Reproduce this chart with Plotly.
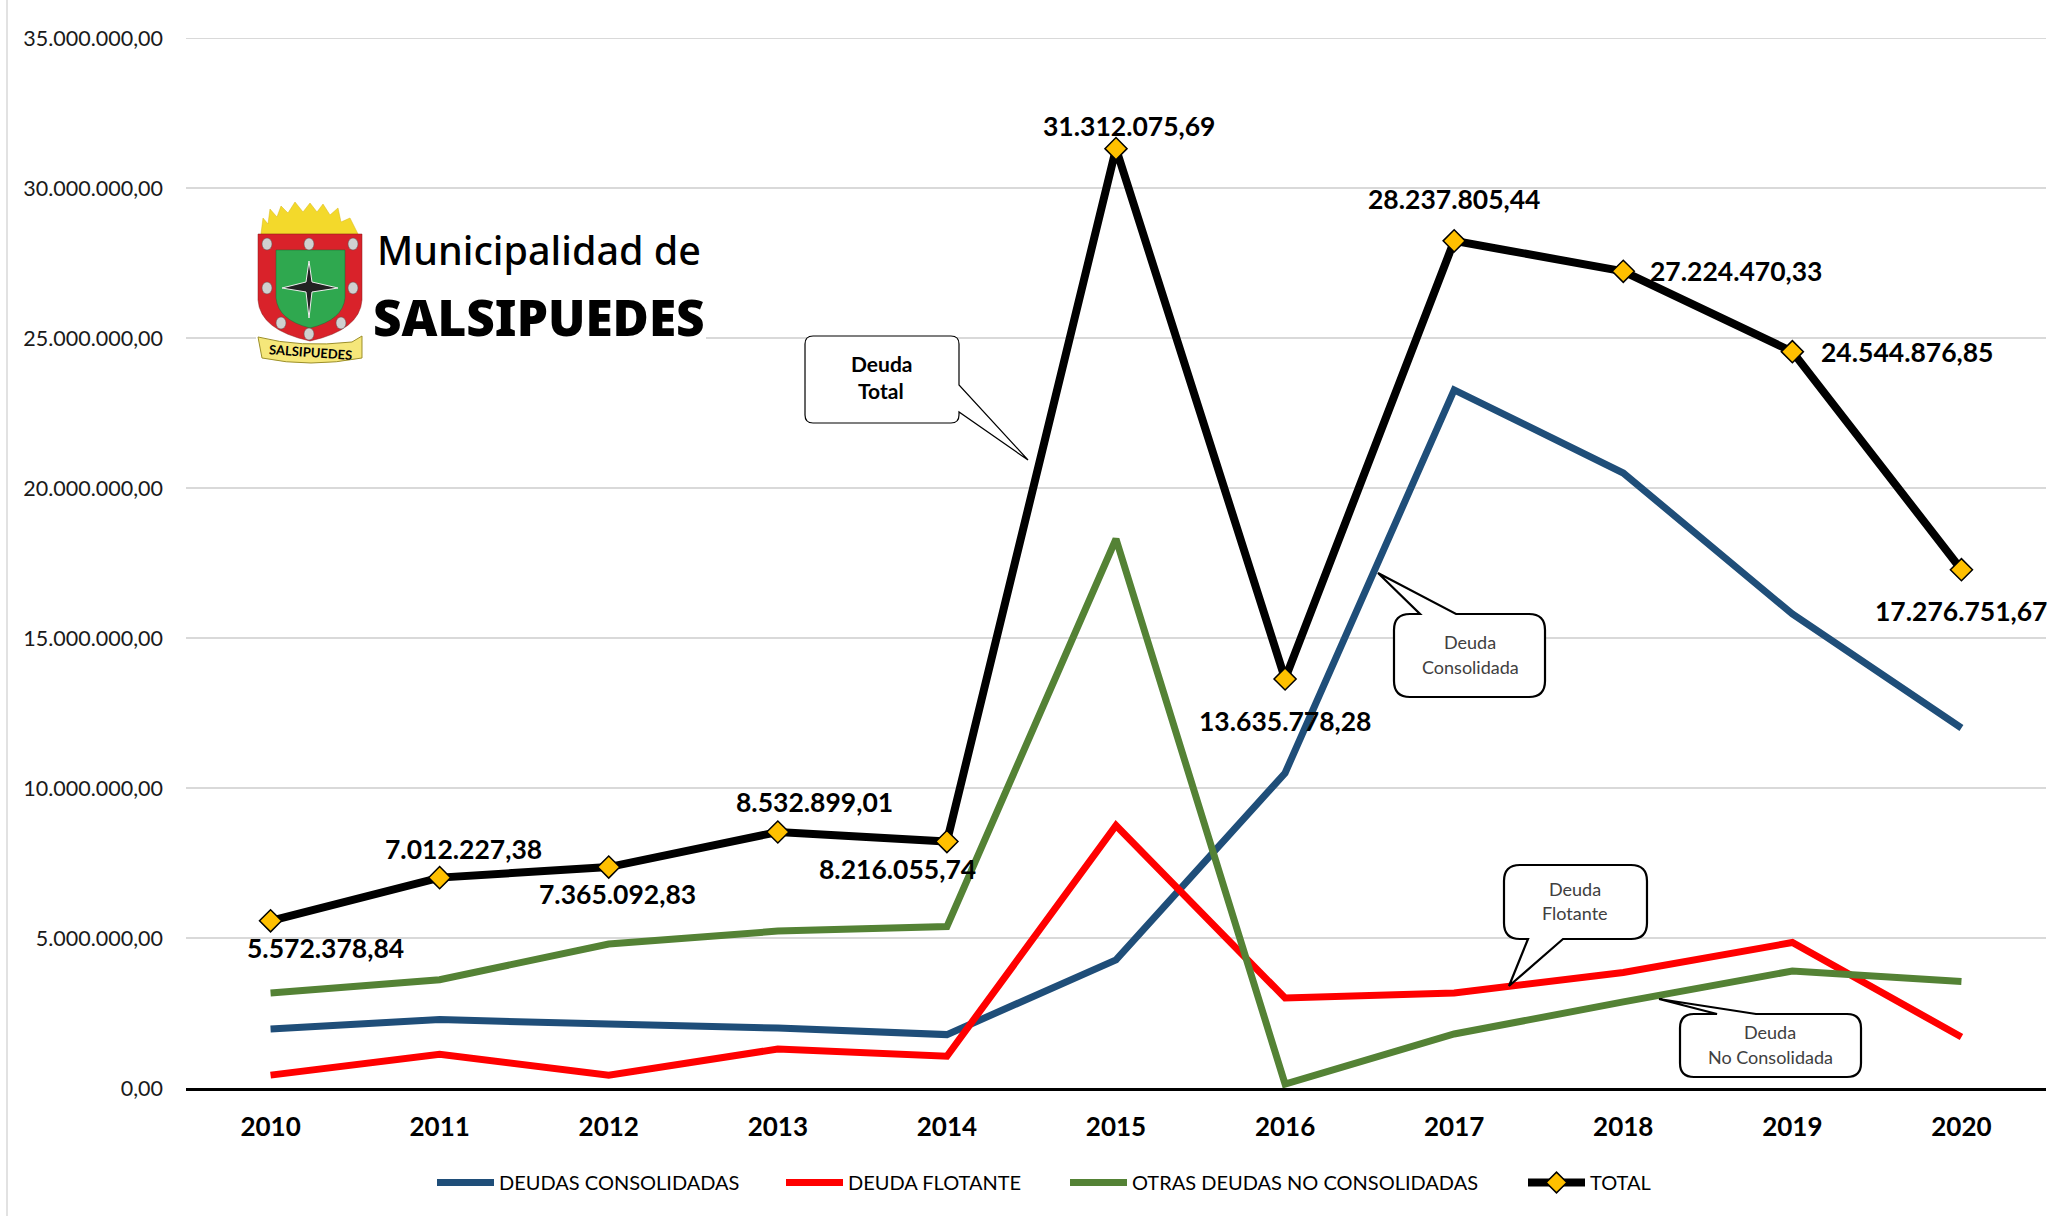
import plotly.graph_objects as go

years = ["2010","2011","2012","2013","2014","2015","2016","2017","2018","2019","2020"]
consolidadas = [1970000,2280000,2130000,2000000,1780000,4270000,10500000,23270000,20500000,15800000,12000000]
flotante = [430000,1120000,430000,1300000,1060000,8750000,3000000,3170000,3850000,4850000,1700000]
otras = [3170000,3610000,4800000,5230000,5380000,18300000,130000,1800000,2870000,3900000,3550000]
total = [5572378.84,7012227.38,7365092.83,8532899.01,8216055.74,31312075.69,13635778.28,28237805.44,27224470.33,24544876.85,17276751.67]
total_labels = ["5.572.378,84","7.012.227,38","7.365.092,83","8.532.899,01","8.216.055,74","31.312.075,69","13.635.778,28","28.237.805,44","27.224.470,33","24.544.876,85","17.276.751,67"]
label_dx = [55,24,9,37,-49,13,0,0,113,115,0]
label_dy = [27,-29,27,-30,27,-23,42,-42,0,0,41]

W,H=2064,1216
L,R,T,B=186,2046,38,1088
def px(x): return (x-L)/(R-L)
def py(y): return (B-y)/(B-T)
def P(x,y): return f"{px(x):.5f},{py(y):.5f}"
def poly(pts): return "M"+" L".join(P(*p) for p in pts)+" Z"

fig=go.Figure()
FONT="Lato"
for name,vals,color,lw in [("DEUDAS CONSOLIDADAS",consolidadas,"#1F4E79",277),("DEUDA FLOTANTE",flotante,"#FF0000",212),("OTRAS DEUDAS NO CONSOLIDADAS",otras,"#548235",386)]:
    fig.add_trace(go.Scatter(x=years,y=vals,name=name,mode="lines",line=dict(color=color,width=7),legendwidth=lw))
fig.add_trace(go.Scatter(x=years,y=total,name="TOTAL",mode="lines+markers",line=dict(color="#000000",width=8),
    marker=dict(symbol="diamond",size=17,color="#FFC000",line=dict(color="#000000",width=1.5))))

shapes=[]; ann=[]
def S(path,fill=None,line="#000000",w=1.5,**k):
    shapes.append(dict(type="path",path=path,xref="paper",yref="paper",fillcolor=fill or "rgba(0,0,0,0)",
        line=dict(color=line,width=w),layer="above",**k))
def T_(x,y,text,size,color="#000000",bold=False,family=FONT,angle=0):
    ann.append(dict(x=px(x),y=py(y),xref="paper",yref="paper",text=text,showarrow=False,xanchor="center",yanchor="middle",textangle=angle,
        font=dict(size=size,color=color,family=family,weight=700 if bold==True else (bold or 400))))

# left page edge
shapes.append(dict(type="line",xref="paper",yref="paper",x0=px(7),x1=px(7),y0=py(0),y1=py(1216),line=dict(color="#D9D9D9",width=1.5),layer="above"))
# top gridline (plotly drops the gridline that sits on the axis end)
shapes.append(dict(type="line",xref="paper",yref="y",x0=0,x1=1,y0=35000000,y1=35000000,line=dict(color="#D9D9D9",width=2),layer="below"))

# logo
shapes.append(dict(type="rect",xref="paper",yref="paper",x0=px(256),x1=px(706),y0=py(200),y1=py(365),fillcolor="#FFFFFF",line=dict(width=0),layer="above"))
sun=[(261,234),(263,218),(268,224),(270,209),(277,217),(281,206),(288,213),(295,202),(303,212),(310,203),(317,212),(323,204),(330,215),(338,208),(341,222),(350,218),(358,234)]
S(poly(sun),fill="#F3D92B",line="#D9B714",w=0.5)
S(f"M{P(258,234)} L{P(362,234)} L{P(362,300)} Q{P(360,330)} {P(310,341)} Q{P(260,330)} {P(258,300)} Z",fill="#D9222A",line="#8A1A1A",w=0.5)
S(f"M{P(276,250)} L{P(345,250)} L{P(345,298)} Q{P(343,320)} {P(310,328)} Q{P(278,320)} {P(276,298)} Z",fill="#2FA84F",line="#1E6B33",w=0.5)
for cx,cy in [(267,244),(309,244),(353,244),(267,288),(353,288),(281,323),(341,323),(309,334)]:
    shapes.append(dict(type="circle",xref="paper",yref="paper",x0=px(cx-5),x1=px(cx+5),y0=py(cy-6),y1=py(cy+6),fillcolor="#D0D0D0",line=dict(color="#555555",width=0.5),layer="above"))
S(poly([(309,261),(312,282),(338,288),(312,292),(309,318),(306,292),(282,288),(306,282)]),fill="#222222",line="#EEEEEE",w=1)
S(f"M{P(258,337)} Q{P(300,348)} {P(352,342)} L{P(362,336)} L{P(362,358)} Q{P(310,368)} {P(262,358)} Z",fill="#F5E77A",line="#9C8F2A",w=1)
T_(310,352,"SALSIPUEDES",13,bold=True,angle=4)
T_(539,250,"Municipalidad de",39.5,family="Noto Sans",bold=500)
T_(539,317,"SALSIPUEDES",49.5,bold=900,family="Noto Sans")

# callouts
def callout(x0,y0,x1,y1,r,pts,w=1.5):
    side=pts["side"]; a,tip,b=pts["v"]
    d=f"M{P(x0+r,y0)} "
    if side=="top": d+=f"L{P(*a)} L{P(*tip)} L{P(*b)} "
    d+=f"L{P(x1-r,y0)} Q{P(x1,y0)} {P(x1,y0+r)} "
    if side=="right": d+=f"L{P(*a)} L{P(*tip)} L{P(*b)} "
    d+=f"L{P(x1,y1-r)} Q{P(x1,y1)} {P(x1-r,y1)} "
    if side=="bottom": d+=f"L{P(*a)} L{P(*tip)} L{P(*b)} "
    d+=f"L{P(x0+r,y1)} Q{P(x0,y1)} {P(x0,y1-r)} L{P(x0,y0+r)} Q{P(x0,y0)} {P(x0+r,y0)} Z"
    S(d,fill="#FFFFFF",w=w)
callout(805,336,959,423,8,dict(side="right",v=[(959,385),(1028,460),(959,412)]),1.2)
T_(881,363,"Deuda",21,bold=True); T_(881,391,"Total",21,bold=True)
callout(1394,614,1545,697,16,dict(side="top",v=[(1420,614),(1378,573),(1456,614)]),2.2)
T_(1470,642,"Deuda",18,"#404040"); T_(1470,667,"Consolidada",18,"#404040")
callout(1504,865,1647,939,16,dict(side="bottom",v=[(1563,939),(1509,986),(1528,939)]),2.2)
T_(1575,889,"Deuda",18,"#404040"); T_(1575,913,"Flotante",18,"#404040")
callout(1680,1014,1861,1077,14,dict(side="top",v=[(1717,1014),(1659,999),(1756,1014)]),2.2)
T_(1770,1032,"Deuda",18,"#404040"); T_(1770,1057,"No Consolidada",18,"#404040")

# total data labels (category axis: position by category index)
for i,(v,t,dx,dy) in enumerate(zip(total,total_labels,label_dx,label_dy)):
    ann.append(dict(x=i,y=v,xref="x",yref="y",text=t,showarrow=False,xshift=dx,yshift=-dy,
        font=dict(family=FONT,size=26.5,color="#000000",weight=700)))

fig.update_layout(
    width=W,height=H,margin=dict(l=L,r=W-R,t=T,b=H-B),
    paper_bgcolor="#FFFFFF",plot_bgcolor="#FFFFFF",separators=",.",
    font=dict(family=FONT,color="#000000"),
    shapes=shapes,annotations=ann,
    legend=dict(orientation="h",x=px(432),xanchor="left",y=py(1163),yanchor="top",itemwidth=57,
        font=dict(family=FONT,size=20,color="#000000"),bgcolor="rgba(0,0,0,0)"),
    xaxis=dict(type="category",range=[-0.5,10.5],showgrid=False,showline=True,linecolor="#000000",linewidth=3,ticks="",
        tickfont=dict(family=FONT,size=26,color="#000000",weight=700),ticklabelstandoff=14),
    yaxis=dict(range=[0,35000000],dtick=5000000,tickformat=",.2f",showline=False,gridcolor="#D9D9D9",gridwidth=2,zeroline=False,
        tickfont=dict(family=FONT,size=21.5,color="#1a1a1a"),ticklabelstandoff=22),
)
fig.write_html("out.html",config=dict(displayModeBar=False),post_script="document.body.style.margin='0';document.documentElement.style.overflow='hidden';")
